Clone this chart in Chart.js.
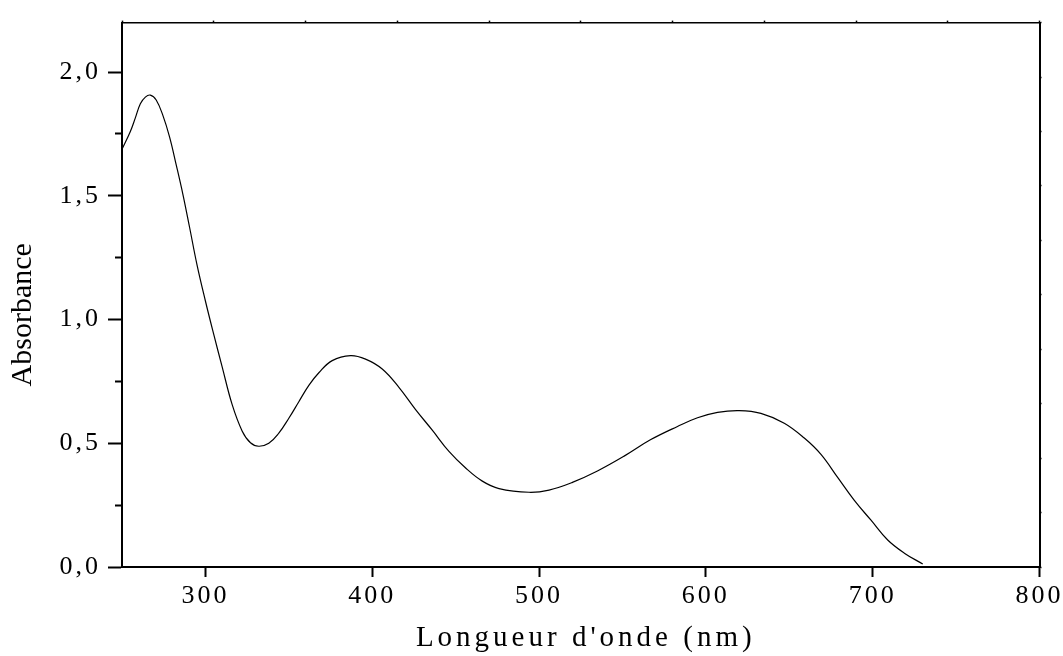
<!DOCTYPE html>
<html lang="fr">
<head>
<meta charset="utf-8">
<title>Absorbance</title>
<script src="https://cdn.jsdelivr.net/npm/chart.js@4.4.1/dist/chart.umd.min.js"></script>
<style>
  html, body { margin: 0; padding: 0; background: #fff; }
  #wrap { width: 1063px; height: 656px; position: relative; }
</style>
</head>
<body>
<div id="wrap"><canvas id="spectreChart"></canvas></div>
<script>
// Spectre d'absorption
const wavelengths = [250, 255, 258, 261, 264, 267, 270.5, 274.5, 278.5, 282.5, 286.5, 290.5, 295,
    300, 305, 310, 316, 322, 327, 332, 338, 344, 350, 356, 362, 368, 376, 387, 396,
    406, 416, 426, 436, 446, 456, 466, 476, 494, 506, 520, 535, 551, 567, 583, 595,
    607, 620, 633, 647, 659, 669, 679, 689, 699, 709, 719, 730];
const absorbance = [1.688, 1.760, 1.815, 1.872, 1.899, 1.907, 1.887, 1.825, 1.738, 1.625, 1.506, 1.373, 1.220,
    1.075, 0.940, 0.810, 0.657, 0.550, 0.502, 0.488, 0.500, 0.541, 0.601, 0.668, 0.734, 0.785, 0.834, 0.854, 0.840,
    0.800, 0.726, 0.636, 0.553, 0.467, 0.400, 0.347, 0.317, 0.302, 0.311, 0.342, 0.388, 0.448, 0.515, 0.568, 0.603,
    0.625, 0.632, 0.621, 0.581, 0.521, 0.455, 0.362, 0.269, 0.189, 0.109, 0.056, 0.012];

const xRange = [250, 800];
const yRange = [0, 2.2];
const xTitle = "Longueur d'onde (nm)";
const yTitle = 'Absorbance';

document.addEventListener('DOMContentLoaded', function() {
    const ctx = document.getElementById('spectreChart');
    if (!ctx) return;

    Chart.defaults.color = '#000';
    Chart.defaults.font.family = '"Liberation Serif", "Times New Roman", serif';

    const tickFont = { size: 26 };

    // espacement des lettres + petit décalage pour les textes des axes
    function wrapText(scale, method, spacing, dx, dy) {
        const orig = scale[method];
        if (orig._wrapped) return;
        const wrapped = function(...args) {
            const c = this.ctx;
            c.save();
            c.letterSpacing = spacing;
            c.translate(dx, dy);
            orig.apply(this, args);
            c.restore();
        };
        wrapped._wrapped = true;
        scale[method] = wrapped;
    }

    const textPlugin = {
        id: 'textPlugin',
        afterLayout(chart) {
            const s = chart.scales;
            wrapText(s.x, 'drawLabels', '3px', 0, 0);
            wrapText(s.x, 'drawTitle', '4px', 5, 0);
            wrapText(s.y, 'drawLabels', '3px', 0, 0);
            wrapText(s.y, 'drawTitle', '0px', 0, 20);
        }
    };

    const points = wavelengths.map((w, i) => ({ x: w, y: absorbance[i] }));

    new Chart(ctx, {
        type: 'line',
        data: {
            datasets: [{
                label: yTitle,
                data: points,
                borderColor: '#000',
                borderWidth: 1.2,
                fill: false,
                pointRadius: 0,
                tension: 0.4,
                xAxisID: 'x',
                yAxisID: 'y'
            }]
        },
        options: {
            responsive: true,
            maintainAspectRatio: false,
            animation: false,
            layout: { padding: 0 },
            plugins: { legend: { display: false }, tooltip: { enabled: false } },
            scales: {
                x: {
                    type: 'linear', position: 'bottom',
                    min: xRange[0], max: xRange[1],
                    afterFit: (s) => { s.height = 89; },
                    border: { display: true, color: '#000', width: 2 },
                    grid: { drawOnChartArea: false, drawTicks: true, tickLength: 10, tickWidth: 2, tickColor: '#000' },
                    ticks: { stepSize: 100, includeBounds: false, autoSkip: false, maxRotation: 0,
                             padding: 4, font: tickFont, callback: (v) => String(v) },
                    title: { display: true, text: xTitle, font: { size: 29 }, padding: { top: 0, bottom: 0 } }
                },
                x2: {
                    type: 'linear', position: 'top',
                    min: xRange[0], max: xRange[1],
                    afterFit: (s) => { s.height = 16; },
                    border: { display: true, color: '#000', width: 1.5 },
                    grid: { drawOnChartArea: false, drawTicks: true, tickLength: 2, tickWidth: 1.5, tickColor: '#000' },
                    ticks: { stepSize: 55, display: false }
                },
                y: {
                    type: 'linear', position: 'left',
                    min: yRange[0], max: yRange[1],
                    afterFit: (s) => { s.width = 122; },
                    border: { display: true, color: '#000', width: 2 },
                    grid: {
                        drawOnChartArea: false, drawTicks: true, tickLength: 14, tickWidth: 2, tickColor: '#000',
                        // graduations secondaires plus courtes
                        tickBorderDash: (c) => (c.tick && Math.round(c.tick.value * 100) % 50 !== 0) ? [0, 7, 8, 50] : []
                    },
                    ticks: {
                        stepSize: 0.25, includeBounds: false, autoSkip: false, padding: 7, font: tickFont,
                        callback: (v) => (Math.round(v * 100) % 50 === 0) ? v.toFixed(1).replace('.', ',') : ''
                    },
                    title: { display: true, text: yTitle, font: { size: 30 }, padding: { top: 5, bottom: 0 } }
                },
                y2: {
                    type: 'linear', position: 'right',
                    min: yRange[0], max: yRange[1],
                    afterFit: (s) => { s.width = 21; },
                    border: { display: true, color: '#000', width: 2 },
                    grid: { drawOnChartArea: false, drawTicks: true, tickLength: 2, tickWidth: 1.5, tickColor: '#000' },
                    ticks: { stepSize: 0.22, display: false }
                }
            }
        },
        plugins: [textPlugin]
    });
});
</script>
</body>
</html>
